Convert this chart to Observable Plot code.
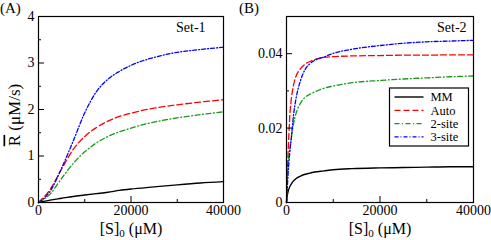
<!DOCTYPE html>
<html><head><meta charset="utf-8">
<script src="https://cdn.jsdelivr.net/npm/d3@7"></script>
<script src="https://cdn.jsdelivr.net/npm/@observablehq/plot@0.6"></script>
<style>
body{margin:0;background:#fff;}
#wrap{position:relative;width:491px;height:240px;overflow:hidden;font-family:"Liberation Serif","Times New Roman",serif;color:#000;}
#wrap > svg{position:absolute;}
</style></head><body><div id="wrap"></div>
<script>
// ---- data ----
const seriesNames = ["MM", "Auto", "2-site", "3-site"];
const panelTags = ["(A)", "(B)"];
const setNames = ["Set-1", "Set-2"];

const xMajorTicks = [0, 20000, 40000];
const xMinorTicks = [10000, 30000];
const yMajorTicksA = [0, 1, 2, 3, 4];
const yMinorTicksA = [0.5, 1.5, 2.5, 3.5];
const yMajorTicksB = [0, 0.02, 0.04];
const yMinorTicksB = [0.01, 0.03, 0.05];

// Panel A (Set-1)
const S_A = [0, 2500, 5000, 7500, 10000, 12500, 15000, 17500, 20000, 25000, 30000, 35000, 40000];
const mmA    = [0, 0.05, 0.09, 0.13, 0.16, 0.19, 0.22, 0.26, 0.29, 0.335, 0.38, 0.42, 0.45];
const autoA  = [0, 0.28, 0.72, 1.14, 1.42, 1.61, 1.75, 1.85, 1.92, 2.03, 2.10, 2.16, 2.21];
const twoA   = [0, 0.18, 0.52, 0.84, 1.09, 1.28, 1.42, 1.52, 1.60, 1.73, 1.82, 1.89, 1.95];
const threeA = [0, 0.24, 0.74, 1.32, 1.93, 2.38, 2.65, 2.82, 2.95, 3.12, 3.23, 3.29, 3.34];

// Panel B (Set-2)
const S_B = [0, 100, 200, 300, 500, 800, 1000, 1500, 2000, 3000, 4000, 5000, 6000, 8000, 10000, 14000, 20000, 25000, 30000, 35000, 40000];
const mmB    = [0, 0.0012, 0.0021, 0.0027, 0.0036, 0.0045, 0.0049, 0.0058, 0.0064, 0.0071, 0.0076, 0.0079, 0.0082, 0.0085, 0.0088, 0.0091, 0.0093, 0.0094, 0.0095, 0.0096, 0.0096];
const autoB  = [0, 0.0040, 0.0085, 0.0120, 0.0180, 0.0250, 0.0275, 0.0315, 0.0338, 0.0360, 0.0372, 0.0379, 0.0384, 0.0390, 0.0392, 0.0394, 0.0395, 0.0396, 0.0396, 0.0397, 0.0397];
const twoB   = [0, 0.0035, 0.0065, 0.0090, 0.0122, 0.0150, 0.0170, 0.0212, 0.0238, 0.0267, 0.0283, 0.0291, 0.0297, 0.0307, 0.0313, 0.0322, 0.0328, 0.0332, 0.0335, 0.0338, 0.0340];
const threeB = [0, 0.0020, 0.0045, 0.0070, 0.0105, 0.0148, 0.0170, 0.0235, 0.0277, 0.0328, 0.0358, 0.0373, 0.0382, 0.0391, 0.0401, 0.0412, 0.0422, 0.0428, 0.0432, 0.0434, 0.0436];

// ---- styles ----
const styles = {
  "MM":     {stroke: "#000000", dash: null,        width: 1.4},
  "Auto":   {stroke: "#ff0000", dash: "6,3",       width: 1.3},
  "2-site": {stroke: "#1a9a1a", dash: "5,2.5,1,2.5", width: 1.3},
  "3-site": {stroke: "#0000ff", dash: "4,2,1,2",   width: 1.3}
};

const font = '"Liberation Serif","Times New Roman",serif';
const fmt = d => String(d);

function panel({S, series, yDomain, yMajor, yMinor, width, marginLeft, marginRight}) {
  const lines = seriesNames.map((name, k) => {
    const st = styles[name];
    return Plot.line(S.map((s, i) => [s, series[k][i]]), {
      stroke: st.stroke, strokeWidth: st.width, strokeDasharray: st.dash, curve: "monotone-x"
    });
  });
  return Plot.plot({
    width, height: 240,
    marginLeft, marginRight, marginTop: 16, marginBottom: 38,
    style: {fontFamily: font, fontSize: "14px", color: "#000", background: "transparent", overflow: "visible"},
    x: {domain: [0, 40000], label: null},
    y: {domain: yDomain, label: null},
    marks: [
      ...lines,
      Plot.frame({stroke: "#000", strokeWidth: 1.2}),
      Plot.axisX(xMajorTicks, {tickSize: -6, tickPadding: 9, tickFormat: fmt, label: null, fontSize: 14}),
      Plot.axisX(xMinorTicks, {tickSize: -3, tickFormat: () => "", label: null}),
      Plot.axisY(yMajor, {tickSize: -6, tickPadding: 10, tickFormat: fmt, label: null, fontSize: 14}),
      Plot.axisY(yMinor, {tickSize: -3, tickFormat: () => "", label: null})
    ]
  });
}

const wrap = document.getElementById("wrap");
const pA = panel({S: S_A, series: [mmA, autoA, twoA, threeA], yDomain: [0, 4], yMajor: yMajorTicksA, yMinor: yMinorTicksA, width: 245, marginLeft: 38, marginRight: 22});
pA.style.left = "0px"; pA.style.top = "0px";
wrap.appendChild(pA);
const pB = panel({S: S_B, series: [mmB, autoB, twoB, threeB], yDomain: [0, 0.05], yMajor: yMajorTicksB, yMinor: yMinorTicksB, width: 246, marginLeft: 41, marginRight: 18});
pB.style.left = "245px"; pB.style.top = "0px";
wrap.appendChild(pB);

// ---- overlay texts and legend ----
const ns = "http://www.w3.org/2000/svg";
const ov = document.createElementNS(ns, "svg");
ov.setAttribute("width", 491); ov.setAttribute("height", 240);
ov.style.left = "0px"; ov.style.top = "0px";
ov.setAttribute("font-family", font);
wrap.appendChild(ov);
function txt(x, y, s, size, anchor) {
  const t = document.createElementNS(ns, "text");
  t.setAttribute("x", x); t.setAttribute("y", y);
  t.setAttribute("font-size", size);
  if (anchor) t.setAttribute("text-anchor", anchor);
  t.textContent = s; ov.appendChild(t); return t;
}
txt(0, 13, panelTags[0], 15);
txt(239, 13, panelTags[1], 15);
txt(176, 32, setNames[0], 14);
txt(437, 32, setNames[1], 14);

// x titles
function xTitle(cx) {
  const t = document.createElementNS(ns, "text");
  t.setAttribute("x", cx); t.setAttribute("y", 233.5);
  t.setAttribute("font-size", 16); t.setAttribute("text-anchor", "middle");
  t.innerHTML = '[S]<tspan dy="3.5" font-size="11">0</tspan><tspan dy="-3.5"> (μM)</tspan>';
  ov.appendChild(t);
}
xTitle(131); xTitle(380);

// y title
const yt = document.createElementNS(ns, "text");
yt.setAttribute("transform", "translate(19.5,115) rotate(-90)");
yt.setAttribute("font-size", 17); yt.setAttribute("text-anchor", "middle");
yt.innerHTML = '<tspan style="text-decoration:overline">R</tspan> (μM/s)';
ov.appendChild(yt);

// legend
const lg = {x: 389.5, y: 88, w: 79, h: 58};
const rect = document.createElementNS(ns, "rect");
rect.setAttribute("x", lg.x); rect.setAttribute("y", lg.y);
rect.setAttribute("width", lg.w); rect.setAttribute("height", lg.h);
rect.setAttribute("fill", "#fff"); rect.setAttribute("stroke", "#000"); rect.setAttribute("stroke-width", 1.2);
ov.appendChild(rect);
seriesNames.forEach((name, i) => {
  const y = lg.y + 9 + i * 13.3;
  const st = styles[name];
  const l = document.createElementNS(ns, "line");
  l.setAttribute("x1", lg.x + 5); l.setAttribute("x2", lg.x + 34);
  l.setAttribute("y1", y); l.setAttribute("y2", y);
  l.setAttribute("stroke", st.stroke); l.setAttribute("stroke-width", st.width);
  if (st.dash) l.setAttribute("stroke-dasharray", st.dash);
  ov.appendChild(l);
  txt(lg.x + 41, y + 4.3, name, 12.5);
});
</script>
</body></html>
